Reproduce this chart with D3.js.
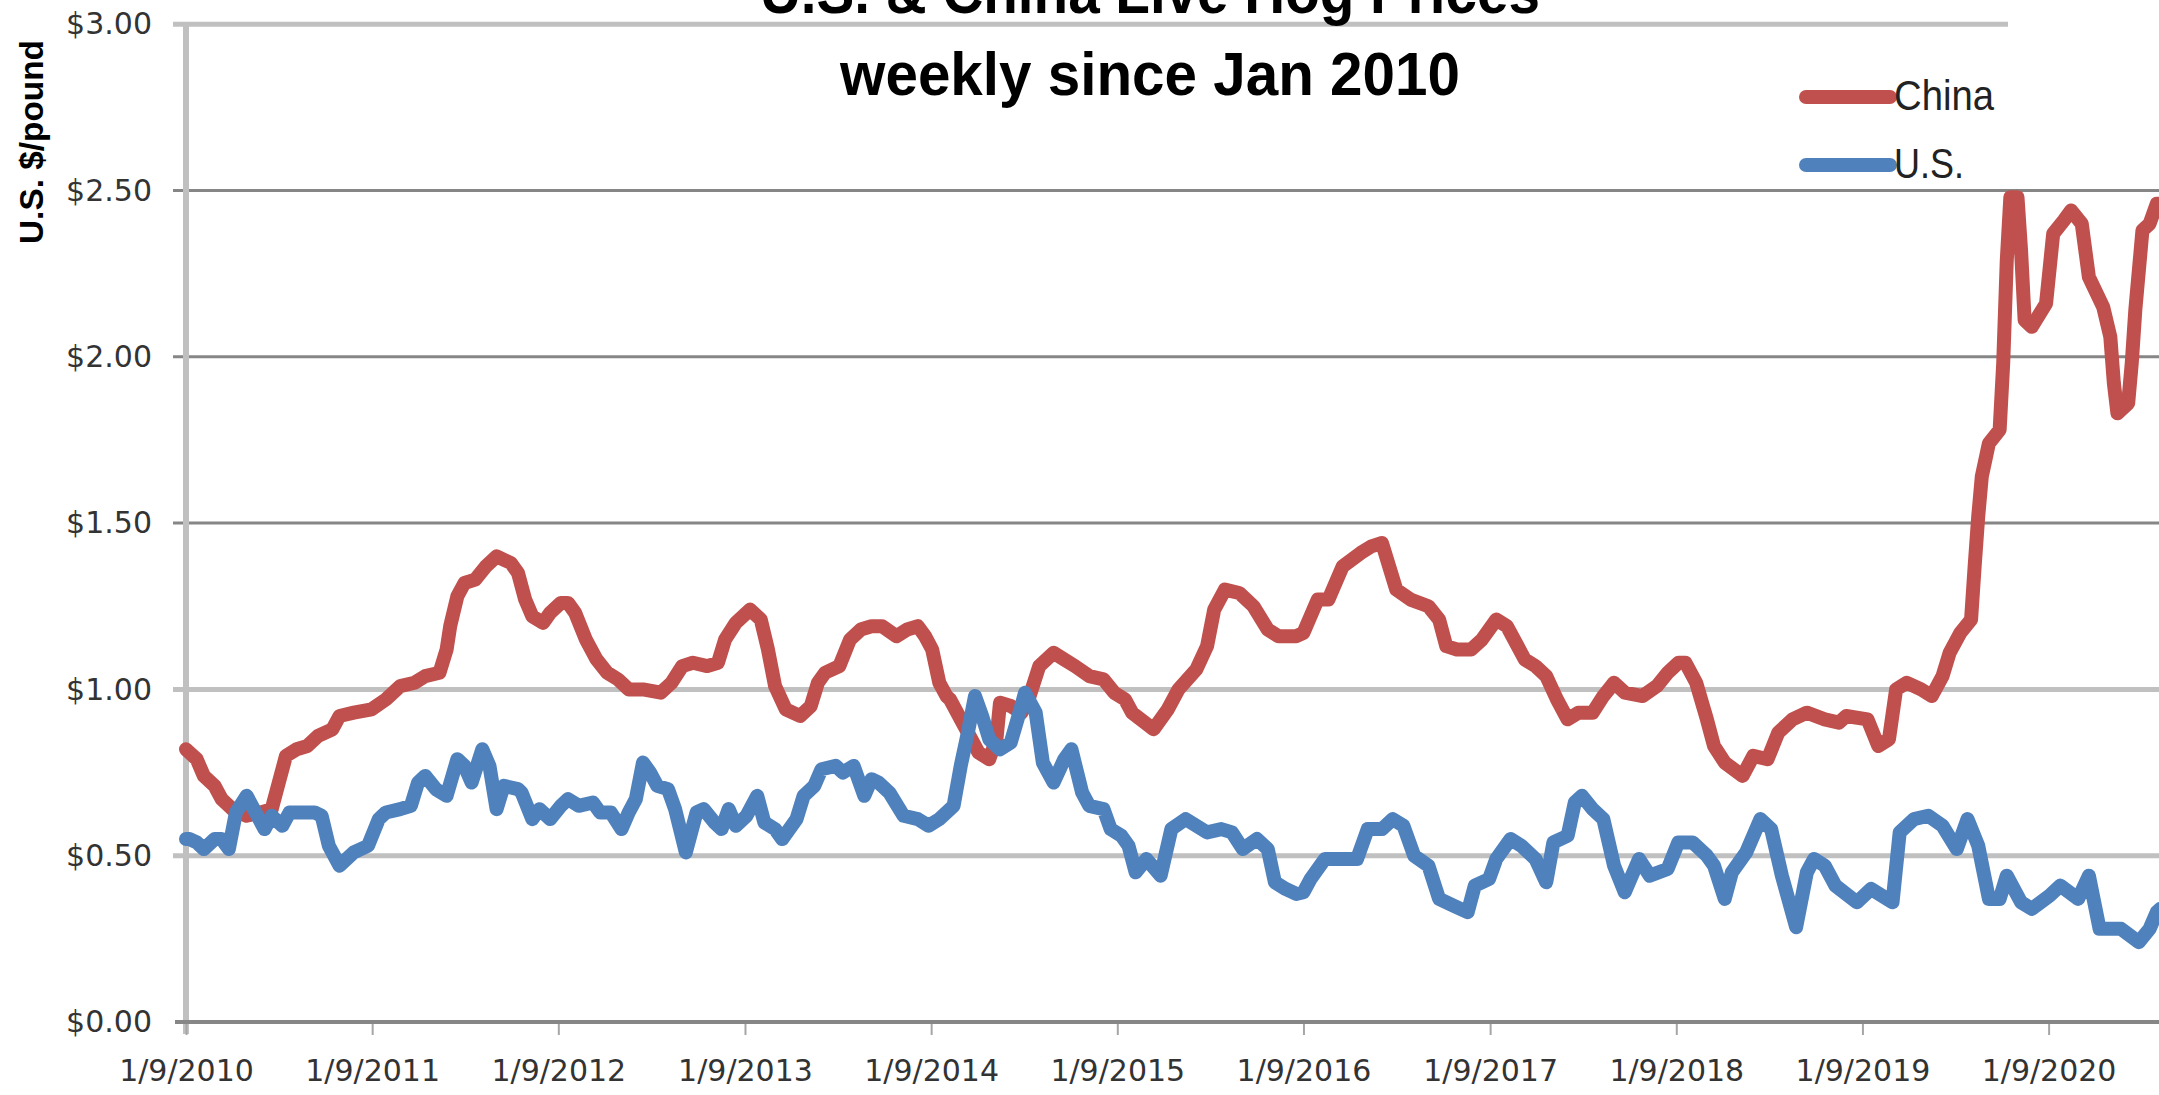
<!DOCTYPE html>
<html>
<head>
<meta charset="utf-8">
<script src="https://d3js.org/d3.v7.min.js"></script>
<style>
  html, body { margin: 0; padding: 0; background: #fff; overflow: hidden; }
  svg { display: block; }
</style>
</head>
<body>
<svg id="chart" width="2159" height="1095"></svg>
<script>
// weeks counted from 1/9/2010, prices in U.S. $/pound
const chinaWeek = [0,1,3,5,8,10,13,17,21,24,26,28,31,34,37,41,43,47,52,56,60,64,67,71,73,74,76,78,81,84,87,91,93,95,97,100,102,105,107,109,112,115,118,121,124,128,133,136,139,142,146,149,151,154,158,161,163,165,168,172,175,177,179,183,186,189,192,195,199,202,205,207,209,211,213,214,217,220,222,225,227,228,231,234,236,239,243,246,249,253,257,260,263,265,271,275,278,283,286,288,291,295,299,303,306,311,313,317,320,324,329,332,335,337,339,343,348,351,353,356,360,363,367,370,373,375,378,381,384,387,390,394,397,400,403,408,412,415,418,420,423,426,428,431,436,439,443,446,450,454,459,463,465,471,474,477,479,482,486,489,492,494,497,500,501,502,503,505,508,509,510,511,513,514,515,517,521,523,526,528,531,533,537,539,540,541,544,545,546,548,550,552,553];
const chinaPrice = [0.82,0.81,0.79,0.74,0.71,0.67,0.64,0.62,0.63,0.64,0.72,0.80,0.82,0.83,0.86,0.88,0.92,0.93,0.94,0.97,1.01,1.02,1.04,1.05,1.12,1.19,1.28,1.32,1.33,1.37,1.40,1.38,1.35,1.27,1.22,1.20,1.23,1.26,1.26,1.23,1.15,1.09,1.05,1.03,1.00,1.00,0.99,1.02,1.07,1.08,1.07,1.08,1.15,1.20,1.24,1.21,1.12,1.01,0.94,0.92,0.95,1.02,1.05,1.07,1.15,1.18,1.19,1.19,1.16,1.18,1.19,1.16,1.12,1.02,0.98,0.97,0.91,0.85,0.81,0.79,0.85,0.96,0.95,0.93,0.97,1.07,1.11,1.09,1.07,1.04,1.03,0.99,0.97,0.93,0.88,0.94,1.00,1.06,1.13,1.24,1.30,1.29,1.25,1.18,1.16,1.16,1.17,1.27,1.27,1.37,1.41,1.43,1.44,1.37,1.30,1.27,1.25,1.21,1.13,1.12,1.12,1.15,1.21,1.19,1.13,1.09,1.07,1.04,0.97,0.91,0.93,0.93,0.98,1.02,0.99,0.98,1.01,1.05,1.08,1.08,1.02,0.91,0.83,0.78,0.74,0.80,0.79,0.87,0.91,0.93,0.91,0.90,0.92,0.91,0.83,0.85,1.00,1.02,1.00,0.98,1.04,1.11,1.17,1.21,1.37,1.52,1.64,1.74,1.78,1.98,2.29,2.48,2.48,2.32,2.11,2.09,2.16,2.37,2.41,2.44,2.40,2.24,2.15,2.06,1.92,1.83,1.86,1.98,2.14,2.38,2.40,2.46,2.46];

const usWeek = [0,1,3,5,8,10,12,14,17,20,22,24,27,29,33,36,38,40,43,47,51,54,56,60,63,65,67,70,73,76,78,80,83,85,87,89,93,94,97,99,102,105,107,110,114,116,119,122,124,126,128,130,132,135,137,140,143,145,148,150,152,154,157,160,162,165,167,169,171,173,176,178,182,184,187,190,192,194,197,201,205,208,211,215,217,219,221,223,225,228,231,234,235,238,240,243,246,248,251,253,257,259,262,264,266,269,273,276,280,286,290,293,296,300,303,305,308,311,313,315,319,323,328,331,335,338,341,344,348,351,355,359,361,365,367,371,374,378,381,383,387,389,391,394,397,400,403,407,410,415,418,422,426,428,431,433,437,441,444,447,451,454,456,459,462,468,472,478,480,484,488,492,496,499,502,505,508,510,514,517,522,525,530,533,536,542,547,550,552,553];
const usPrice = [0.55,0.55,0.54,0.52,0.55,0.55,0.52,0.63,0.68,0.62,0.58,0.62,0.59,0.63,0.63,0.63,0.62,0.53,0.47,0.51,0.53,0.61,0.63,0.64,0.65,0.72,0.74,0.70,0.68,0.79,0.77,0.72,0.82,0.77,0.64,0.71,0.70,0.69,0.61,0.64,0.61,0.65,0.67,0.65,0.66,0.63,0.63,0.58,0.63,0.67,0.78,0.75,0.71,0.70,0.64,0.51,0.63,0.64,0.60,0.58,0.64,0.59,0.62,0.68,0.60,0.58,0.55,0.58,0.61,0.68,0.71,0.76,0.77,0.75,0.77,0.68,0.73,0.72,0.69,0.62,0.61,0.59,0.61,0.65,0.77,0.87,0.98,0.92,0.85,0.82,0.84,0.95,0.99,0.93,0.78,0.72,0.79,0.82,0.69,0.65,0.64,0.58,0.56,0.53,0.45,0.49,0.44,0.58,0.61,0.57,0.58,0.57,0.52,0.55,0.52,0.42,0.40,0.385,0.39,0.43,0.49,0.49,0.49,0.58,0.58,0.61,0.59,0.50,0.47,0.37,0.35,0.33,0.41,0.43,0.49,0.55,0.53,0.49,0.42,0.54,0.56,0.66,0.68,0.64,0.61,0.47,0.39,0.49,0.44,0.46,0.54,0.54,0.50,0.47,0.37,0.45,0.51,0.61,0.58,0.44,0.285,0.45,0.49,0.47,0.41,0.36,0.40,0.36,0.57,0.61,0.62,0.59,0.52,0.61,0.53,0.37,0.37,0.44,0.36,0.34,0.38,0.41,0.37,0.44,0.28,0.28,0.24,0.28,0.33,0.34];

const yTicks = [0, 0.5, 1, 1.5, 2, 2.5, 3];
const tickYears = [2010, 2011, 2012, 2013, 2014, 2015, 2016, 2017, 2018, 2019, 2020];
const titleLines = ["U.S. & China Live Hog Prices", "weekly since Jan 2010"];
const seriesNames = ["China", "U.S."];
const seriesColors = ["#C0504D", "#4F81BD"];

const svg = d3.select("#chart");
const width = 2159;
const startDate = new Date(2010, 0, 9);
const weekDate = w => d3.timeDay.offset(startDate, w * 7);

const x = d3.scaleTime()
  .domain([startDate, new Date(2020, 0, 9)])
  .range([186, 2048.6]);
const y = d3.scaleLinear().domain([0, 3]).range([1022, 24.2]);

svg.append("rect").attr("width", width).attr("height", 1095).attr("fill", "#fff");

// gridlines (top one is the lighter plot border, cut short)
const isLight = v => v === 1 || v === 0.5 || v === 3;
svg.append("g").selectAll("line")
  .data(yTicks.filter(v => v > 0))
  .enter().append("line")
  .attr("x1", 173)
  .attr("x2", d => d === 3 ? 2008 : width)
  .attr("y1", d => y(d)).attr("y2", d => y(d))
  .attr("stroke", d => isLight(d) ? "#c0c0c0" : "#868686")
  .attr("stroke-width", d => isLight(d) ? 5 : 3);

// y axis line
svg.append("line")
  .attr("x1", 186).attr("x2", 186)
  .attr("y1", y(3) - 2).attr("y2", 1034)
  .attr("stroke", "#c0c0c0").attr("stroke-width", 6);

// y axis labels
const yAxis = svg.append("g")
  .attr("transform", "translate(185,0)")
  .call(d3.axisLeft(y).tickValues(yTicks).tickFormat(d3.format("$.2f")).tickSize(0).tickPadding(33));
yAxis.select(".domain").remove();
yAxis.selectAll("text")
  .attr("fill", "#333")
  .style("font-family", "'DejaVu Sans', sans-serif")
  .style("font-size", "30px");

// x axis
const xAxis = svg.append("g")
  .attr("transform", "translate(0,1022)")
  .call(d3.axisBottom(x)
    .tickValues(tickYears.map(yr => new Date(yr, 0, 9)))
    .tickFormat(d3.timeFormat("%-m/%-d/%Y"))
    .tickSize(13).tickPadding(25));
xAxis.select(".domain").remove();
xAxis.selectAll(".tick line").attr("stroke", "#a6a6a6").attr("stroke-width", 2);
xAxis.selectAll("text")
  .attr("fill", "#333")
  .style("font-family", "'DejaVu Sans', sans-serif")
  .style("font-size", "30px");
svg.append("line")
  .attr("x1", 175).attr("x2", width)
  .attr("y1", 1022).attr("y2", 1022)
  .attr("stroke", "#868686").attr("stroke-width", 4);

// lines
const line = d3.line()
  .x(d => x(weekDate(d[0])))
  .y(d => y(d[1]));

const series = [
  d3.zip(chinaWeek, chinaPrice),
  d3.zip(usWeek, usPrice)
];
svg.append("g").selectAll("path")
  .data(series)
  .enter().append("path")
  .attr("d", line)
  .attr("fill", "none")
  .attr("stroke", (d, i) => seriesColors[i])
  .attr("stroke-width", 14)
  .attr("stroke-linejoin", "round")
  .attr("stroke-linecap", "round");

// title (top line runs off the top edge, as in the original)
svg.append("g").selectAll("text")
  .data(titleLines)
  .enter().append("text")
  .attr("x", 1150)
  .attr("y", (d, i) => 13 + i * 82)
  .attr("text-anchor", "middle")
  .attr("textLength", (d, i) => i === 0 ? 780 : 620)
  .attr("lengthAdjust", "spacingAndGlyphs")
  .style("font-family", "'Liberation Sans', Arial, sans-serif")
  .style("font-weight", "bold")
  .style("font-size", "62px")
  .attr("fill", "#000")
  .text(d => d);

// y title
svg.append("text")
  .attr("transform", "translate(43,142) rotate(-90)")
  .attr("text-anchor", "middle")
  .attr("textLength", 204)
  .attr("lengthAdjust", "spacingAndGlyphs")
  .style("font-family", "'Liberation Sans', Arial, sans-serif")
  .style("font-weight", "bold")
  .style("font-size", "33px")
  .attr("fill", "#000")
  .text("U.S. $/pound");

// legend
const legend = svg.append("g").selectAll("g")
  .data(seriesNames)
  .enter().append("g")
  .attr("transform", (d, i) => `translate(1806,${97 + i * 68})`);
legend.append("line")
  .attr("x1", 0).attr("x2", 84)
  .attr("stroke", (d, i) => seriesColors[i])
  .attr("stroke-width", 14)
  .attr("stroke-linecap", "round");
legend.append("text")
  .attr("x", 88)
  .attr("y", 13)
  .attr("textLength", (d, i) => i === 0 ? 100 : 70)
  .attr("lengthAdjust", "spacingAndGlyphs")
  .style("font-family", "'Liberation Sans', Arial, sans-serif")
  .style("font-size", "42px")
  .attr("fill", "#222")
  .text(d => d);
</script>
</body>
</html>
